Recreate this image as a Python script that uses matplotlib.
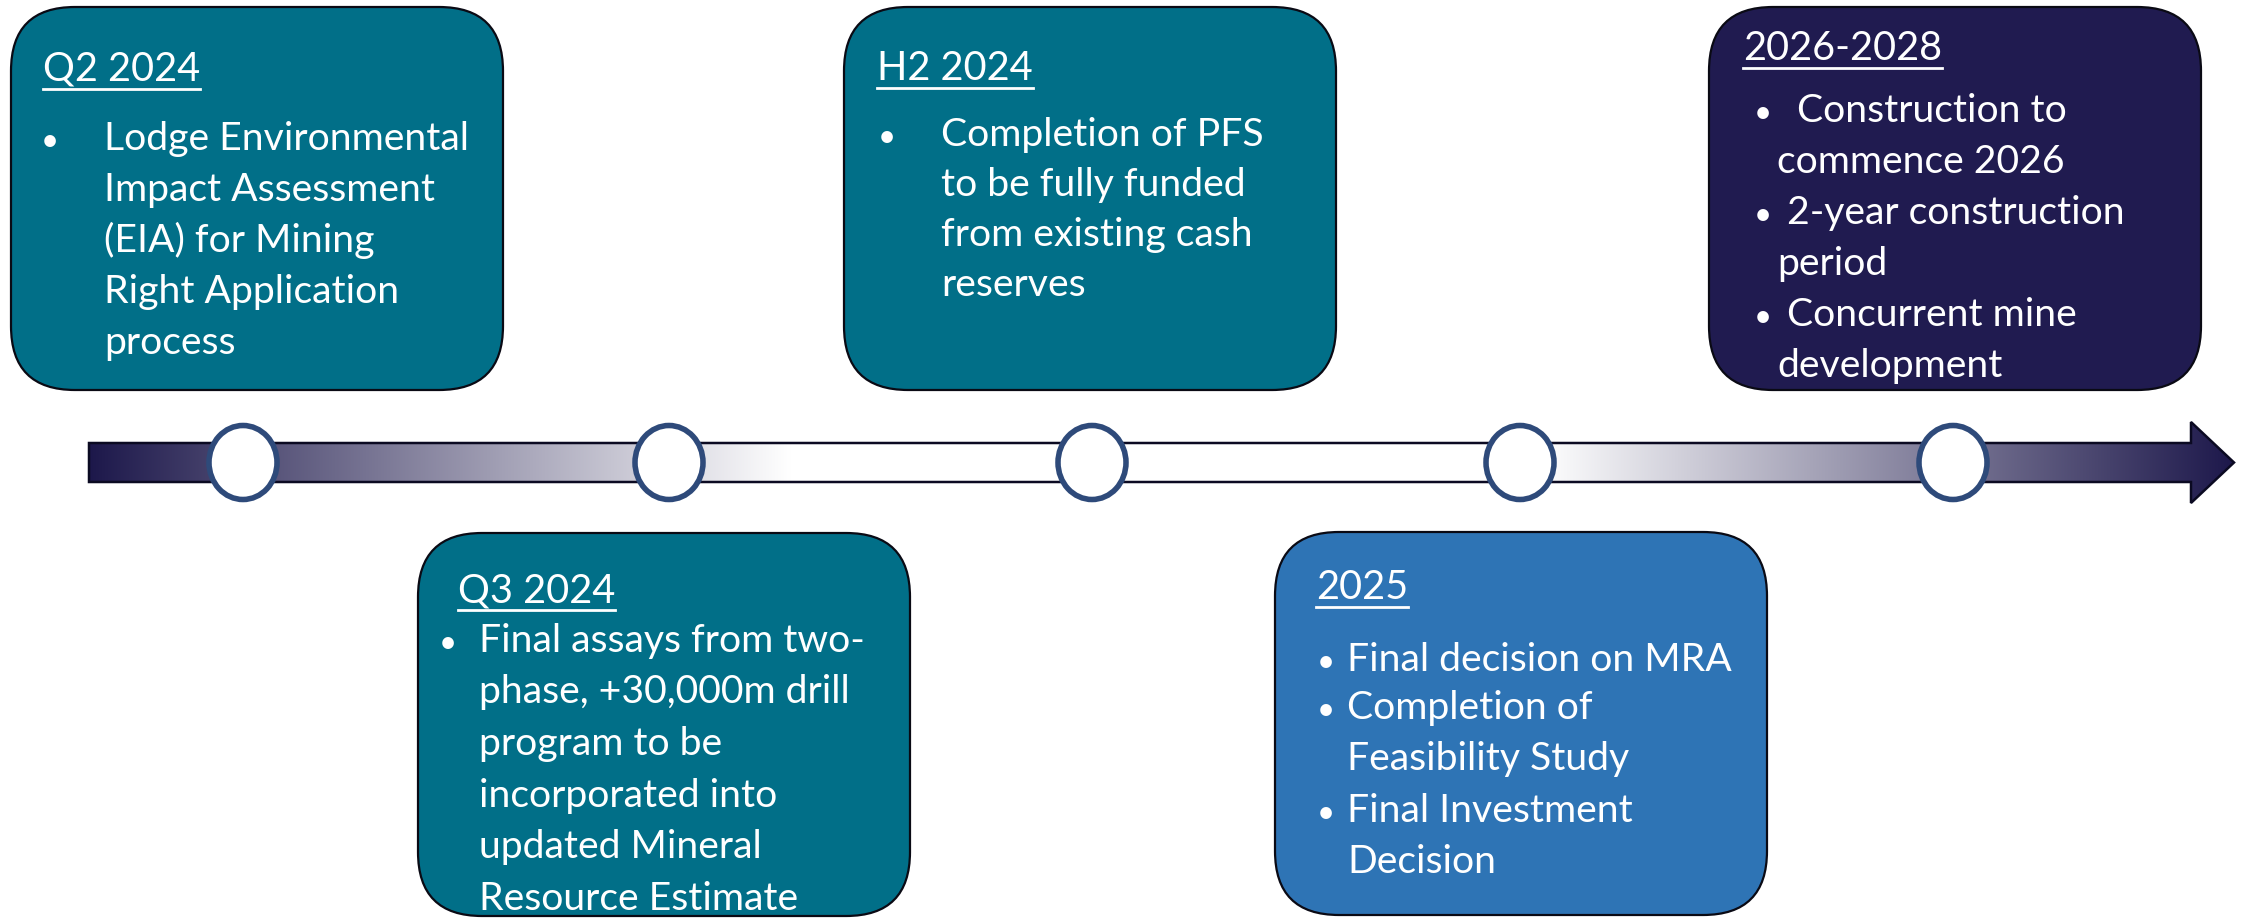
import numpy as np
import matplotlib
matplotlib.use("Agg")
import matplotlib.pyplot as plt
from matplotlib.patches import FancyBboxPatch, Ellipse, Polygon
from matplotlib.lines import Line2D

# ---------------- data ----------------
periods = ["Q2 2024", "Q3 2024", "H2 2024", "2025", "2026-2028"]
box_colors = ["#016F88", "#016F88", "#016F88", "#2E74B5", "#201B50"]

body_q2 = ["Lodge Environmental", "Impact Assessment", "(EIA) for Mining",
           "Right Application", "process"]
body_q3 = ["Final assays from two-", "phase, +30,000m drill", "program to be",
           "incorporated into", "updated Mineral", "Resource Estimate"]
body_h2 = ["Completion of PFS", "to be fully funded", "from existing cash", "reserves"]
body_2025 = [["Final decision on MRA"], ["Completion of", "Feasibility Study"],
             ["Final Investment", "Decision"]]
body_2026 = [["Construction to", "commence 2026"], ["2-year construction", "period"],
             ["Concurrent mine", "development"]]

# ---------------- layout ----------------
W, H = 2242, 919
FONT = ["Lato", "DejaVu Sans"]
fig = plt.figure(figsize=(W / 100, H / 100), dpi=100)
ax = fig.add_axes([0, 0, 1, 1])
ax.set_xlim(0, W)
ax.set_ylim(H, 0)
ax.axis("off")
fig.canvas.draw()
renderer = fig.canvas.get_renderer()


def fit_size(s, target_px, base=30):
    t = ax.text(0, 0, s, fontsize=base, family=FONT)
    w = t.get_window_extent(renderer).width
    t.remove()
    return base * target_px / w


body_fs = fit_size("Lodge Environmental", 365)
title_fs = fit_size("Q2 2024", 157)
bullet_fs = body_fs * 0.8

# ---------------- arrow with gradient ----------------
bar_x0, bar_x1, tip_x = 89, 2191, 2234
bar_y0, bar_y1 = 443, 482
head_y0, head_y1 = 422, 503
yc = (bar_y0 + bar_y1) / 2
arrow_pts = [(bar_x0, bar_y0), (bar_x1, bar_y0), (bar_x1, head_y0), (tip_x, yc),
             (bar_x1, head_y1), (bar_x1, bar_y1), (bar_x0, bar_y1)]

dark = np.array([0x1D, 0x18, 0x4B]) / 255.0
white = np.array([1.0, 1.0, 1.0])
xs = np.linspace(bar_x0, tip_x, 1200)
left_white, right_white = 790, 1540
t = np.where(xs < left_white, (left_white - xs) / (left_white - bar_x0),
             np.where(xs > right_white, (xs - right_white) / (tip_x - right_white), 0.0))
t = np.clip(t, 0, 1)[:, None]
grad = (white * (1 - t) + dark * t)[None, :, :]

poly = Polygon(arrow_pts, closed=True, facecolor="none", edgecolor="#0B0A22",
               lw=1.8, zorder=3)
im = ax.imshow(grad, extent=[bar_x0, tip_x, head_y1, head_y0], aspect="auto",
               zorder=2, interpolation="bilinear")
ax.add_patch(poly)
im.set_clip_path(poly)

# ---------------- milestone circles ----------------
circle_x = [243, 669, 1092, 1520, 1953]
for cx in circle_x:
    ax.add_patch(Ellipse((cx, yc), 68, 74, facecolor="white", edgecolor="#2E4A7A",
                         lw=4.0, zorder=4))

# ---------------- boxes ----------------
box_x = [11, 418, 844, 1275, 1709]
box_top = [7, 533, 7, 532, 7]
box_w, box_h = 492, 383

for x, y, c in zip(box_x, box_top, box_colors):
    ax.add_patch(FancyBboxPatch((x, y), box_w, box_h,
                                boxstyle="round,pad=0,rounding_size=64",
                                facecolor=c, edgecolor="#0A0A14", lw=1.6, zorder=5))

title_pos = [(43, 81), (458, 602), (877, 80), (1316, 599), (1743, 60)]


def title(s, x, y):
    tt = ax.text(x, y, s, fontsize=title_fs, family=FONT, color="white",
                 ha="left", va="baseline", zorder=6)
    bb = tt.get_window_extent(renderer).transformed(ax.transData.inverted())
    x0, x1 = min(bb.x0, bb.x1), max(bb.x0, bb.x1)
    ax.add_line(Line2D([x0, x1], [y + 8, y + 8], color="white", lw=2.0, zorder=6))


for s, (x, y) in zip(periods, title_pos):
    title(s, x, y)


def txt(x, y, s, fs=None, ha="left"):
    ax.text(x, y, s, fontsize=fs or body_fs, family=FONT, color="white",
            ha=ha, va="baseline", zorder=6)


def bullet(x, y):
    txt(x, y, "\u2022", fs=bullet_fs, ha="center")


def body(lines, tx, y0, dy, bx=None, cont_x=None):
    for i, ln in enumerate(lines):
        x = tx if (i == 0 or cont_x is None) else cont_x
        txt(x, y0 + i * dy, ln)
    if bx is not None:
        bullet(bx, y0)


body(body_q2, 104, 150, 51, bx=50)
body(body_h2, 941, 146, 50, bx=887)
body(body_q3, 479, 652, 51.5, bx=448)

ys_2025 = [671, 719, 769, 822, 874]
k = 0
for item in body_2025:
    body(item, 1347, ys_2025[k], 51, bx=1326)
    k += len(item)

ys_2026 = [122, 224, 326]
first_x_2026 = [1797, 1787, 1787]
for item, y0, fx in zip(body_2026, ys_2026, first_x_2026):
    body(item, fx, y0, 51, bx=1763, cont_x=1777)

fig.savefig("out.png", dpi=100, facecolor="white")
